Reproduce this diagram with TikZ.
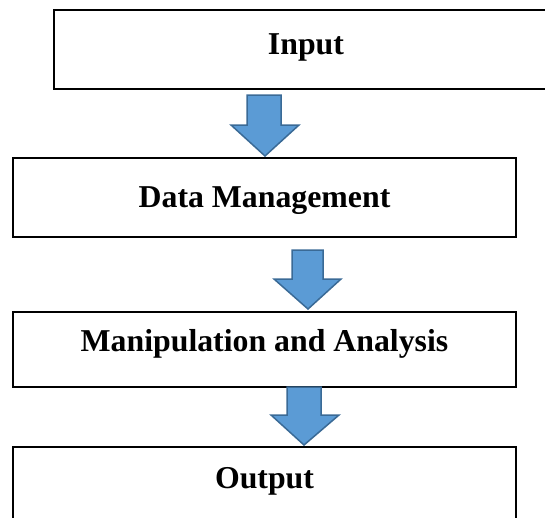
\documentclass[tikz,border=0pt]{standalone}
\usepackage{fontspec}
\setmainfont{Liberation Serif}
\begin{document}
\begin{tikzpicture}[x=1pt,y=-1pt,
  box/.style={draw=black,line width=1.5pt,fill=white},
  lbl/.style={font=\fontsize{31.8}{36}\selectfont\bfseries,anchor=base,inner sep=0pt},
  blockarrow/.style={draw=arrowedge,fill=arrowfill,line width=1.5pt,line join=miter}]
\definecolor{arrowfill}{HTML}{5B9BD5}
\definecolor{arrowedge}{HTML}{3A6A96}
\useasboundingbox (0,0) rectangle (545,517);
\clip (0,0) rectangle (545,517);
% boxes
\draw[box] (54,10) rectangle (560,89);
\draw[box] (13,158) rectangle (516,237);
\draw[box] (13,312) rectangle (516,387);
\draw[box] (13,447) rectangle (516,540);
% labels
\node[lbl] (input) at (306,54) {Input};
\node[lbl] (dm) at (264.5,207) {Data Management};
\node[lbl] (ma) at (264.5,351) {Manipulation and Analysis};
\node[lbl] (out) at (264.5,488) {Output};
% block arrows
\draw[blockarrow] (247,95) -- (281,95) -- (281,125) -- (299,125) -- (265,156) -- (231,125) -- (247,125) -- cycle;
\draw[blockarrow] (292,250) -- (323,250) -- (323,279) -- (341,279) -- (308,309) -- (274,279) -- (292,279) -- cycle;
\draw[blockarrow] (287,387) -- (321,387) -- (321,415) -- (339,415) -- (304,445) -- (271,415) -- (287,415) -- cycle;
\end{tikzpicture}
\end{document}
